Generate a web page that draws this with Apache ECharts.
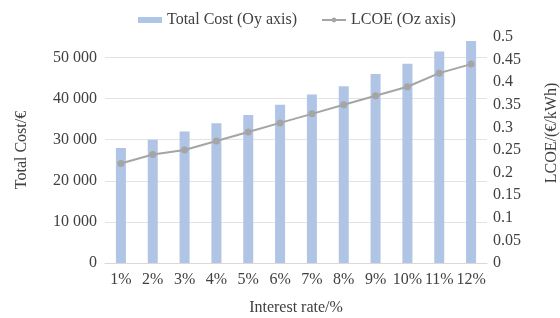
<!DOCTYPE html>
<html>
<head>
<meta charset="utf-8">
<script src="https://cdn.jsdelivr.net/npm/echarts@6/dist/echarts.min.js"></script>
<style>html,body{margin:0;padding:0;background:#fff}#c{width:560px;height:318px}</style>
</head>
<body>
<div id="c"></div>
<script>
var categories = ['1%','2%','3%','4%','5%','6%','7%','8%','9%','10%','11%','12%'];
var totalCost = [28000, 30000, 32000, 34000, 36000, 38500, 41000, 43000, 46000, 48500, 51500, 54000];
var lcoe = [0.22, 0.24, 0.25, 0.27, 0.29, 0.31, 0.33, 0.35, 0.37, 0.39, 0.42, 0.44];

var FONT = 'Liberation Serif';
var TXT = '#404040';
var FS = 16;
var chart = echarts.init(document.getElementById('c'), null, {renderer: 'canvas'});
function fmtThousands(v) {
  var s = String(Math.round(v));
  return s.replace(/\B(?=(\d{3})+(?!\d))/g, ' ');
}
chart.setOption({
  animation: false,
  textStyle: {fontFamily: FONT},
  legend: {
    top: 7,
    left: 133,
    itemGap: 24,
    itemWidth: 24,
    itemHeight: 6,
    textStyle: {fontFamily: FONT, fontSize: FS, color: TXT},
    data: [
      {name: 'Total Cost (Oy axis)', icon: 'rect'},
      {name: 'LCOE (Oz axis)'}
    ]
  },
  grid: {left: 105, right: 73, top: 37, bottom: 55, containLabel: false, outerBoundsMode: 'none'},
  xAxis: {
    type: 'category',
    data: categories,
    name: 'Interest rate/%',
    nameLocation: 'middle',
    nameGap: 37,
    nameTextStyle: {fontFamily: FONT, fontSize: FS, color: TXT},
    axisLine: {lineStyle: {color: '#d9d9d9'}},
    axisTick: {show: false},
    axisLabel: {fontFamily: FONT, fontSize: FS, color: TXT, margin: 9, interval: 0}
  },
  yAxis: [
    {
      type: 'value',
      min: 0, max: 55000, interval: 10000,
      name: 'Total Cost/€',
      nameLocation: 'middle',
      nameRotate: 90,
      nameGap: 75,
      nameTextStyle: {fontFamily: FONT, fontSize: FS, color: TXT},
      axisLine: {show: false},
      axisTick: {show: false},
      axisLabel: {fontFamily: FONT, fontSize: FS, color: TXT, margin: 8, showMaxLabel: false, formatter: fmtThousands},
      splitLine: {lineStyle: {color: ['#e3e3e3','#e3e3e3','#e3e3e3','#e3e3e3','#e3e3e3','#e3e3e3','rgba(0,0,0,0)']}}
    },
    {
      type: 'value',
      min: 0, max: 0.5, interval: 0.05,
      position: 'right',
      name: 'LCOE/(€/kWh)',
      nameLocation: 'middle',
      nameRotate: 90,
      nameGap: 57,
      nameTextStyle: {fontFamily: FONT, fontSize: FS, color: TXT, padding: [0, 0, 0, 34]},
      axisLine: {show: false},
      axisTick: {show: false},
      splitLine: {show: false},
      axisLabel: {fontFamily: FONT, fontSize: FS, color: TXT, margin: 6, formatter: function (v) { return String(Math.round(v * 100) / 100); }}
    }
  ],
  series: [
    {
      name: 'Total Cost (Oy axis)',
      type: 'bar',
      yAxisIndex: 0,
      data: totalCost,
      barWidth: 10,
      itemStyle: {color: '#b0c4e5'}
    },
    {
      name: 'LCOE (Oz axis)',
      type: 'line',
      yAxisIndex: 1,
      data: lcoe,
      symbol: 'circle',
      symbolSize: 7,
      itemStyle: {color: '#a5a5a5'},
      lineStyle: {color: '#a5a5a5', width: 2}
    }
  ]
});
</script>
</body>
</html>
